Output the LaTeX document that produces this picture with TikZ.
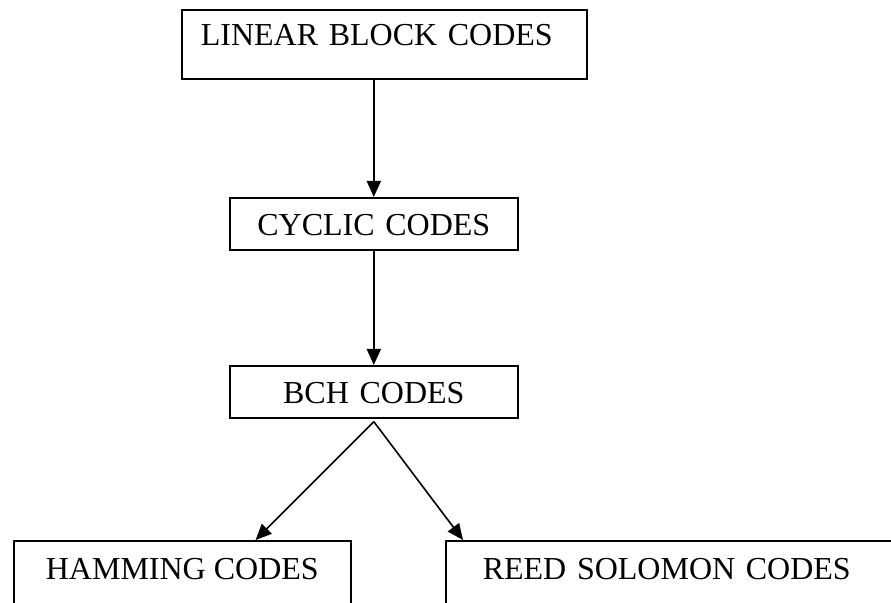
\documentclass[tikz,border=0pt]{standalone}
\usepackage{fontspec}
\setmainfont{Liberation Serif}
\usetikzlibrary{arrows.meta}
\tikzstyle{arrow} = [line width=0.8pt,-{Triangle[length=8pt,width=7pt]}]
\tikzstyle{codebox} = [draw,line width=0.8pt,rectangle,inner ysep=0pt,anchor=north west,font=\fontsize{16}{19}\selectfont]

\begin{document}
\begin{tikzpicture}[x=0.5pt,y=-0.5pt]
	\clip (0,0) rectangle (891,603);
	% hierarchy of the code families
	\node[codebox,inner xsep=9.5pt,text width=183.5pt,align=left,
		text height=18pt,text depth=16.5pt] (lbc) at (181,9) {LINEAR BLOCK CODES};
	\node[codebox,inner xsep=0pt,text width=144pt,align=center,
		text height=19pt,text depth=7pt] (cyc) at (229,197) {CYCLIC CODES};
	\node[codebox,inner xsep=0pt,text width=144pt,align=center,
		text height=19pt,text depth=7pt] (bch) at (229,365) {BCH CODES};
	% bottom row runs off the page
	\node[codebox,inner xsep=0pt,minimum width=168.5pt,
		text height=19.5pt,text depth=40pt] (ham) at (13,540) {HAMMING CODES};
	\node[codebox,inner xsep=18.5pt,text width=250pt,align=left,
		text height=19.5pt,text depth=40pt] (rsc) at (445,540) {REED SOLOMON CODES};

	\draw[arrow] (cyc.north |- lbc.south) -- (cyc.north);
	\draw[arrow] (cyc.south) -- (bch.north);
	\draw[arrow] ([yshift=-1.5pt]bch.south) -- ([xshift=-48pt]ham.north east);
	\draw[arrow] ([yshift=-1.5pt]bch.south) -- ([xshift=9pt]rsc.north west);
\end{tikzpicture}
\end{document}
